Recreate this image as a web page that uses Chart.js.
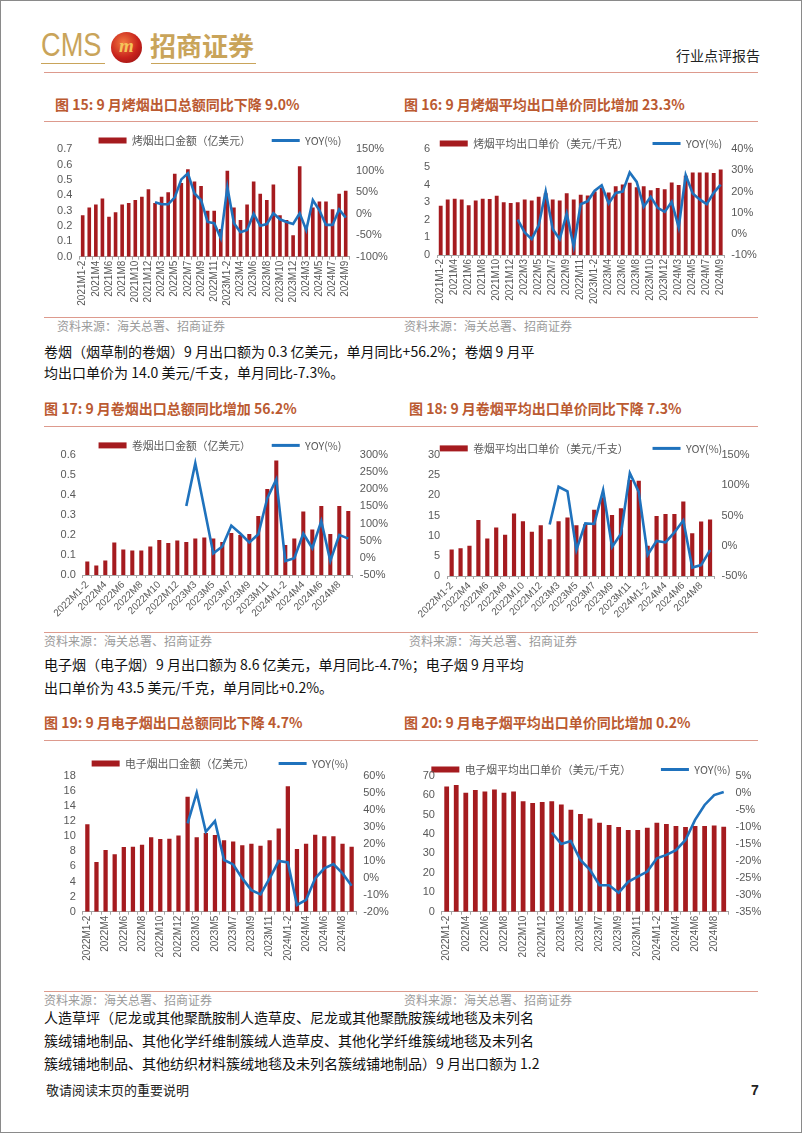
<!DOCTYPE html>
<html><head><meta charset="utf-8">
<script src="https://cdn.jsdelivr.net/npm/chart.js@4.4.1/dist/chart.umd.min.js"></script>
<style>
html,body{margin:0;padding:0;}
body{width:802px;height:1133px;position:relative;background:#fff;overflow:hidden;font-family:"Noto Sans CJK SC","Noto Sans",sans-serif;}
#frame{position:absolute;left:0;top:0;width:800px;height:1131px;border:1px solid #8a8a8a;}
.abs{position:absolute;white-space:nowrap;}
.rule{position:absolute;height:0;border-top:1.4px solid #dd9a8d;}
.title{font-size:14px;font-weight:bold;color:#bb5a31;line-height:20px;}
.src{font-size:12px;color:#9a9a9a;line-height:16px;}
.para{font-size:14px;color:#111;line-height:20px;}
canvas{position:absolute;}
</style></head>
<body>
<div id="frame"></div>
<!-- header -->
<div class="abs" style="left:41px;top:25px;font:34px 'Liberation Sans',Arial,sans-serif;color:#c9a45a;transform:scaleX(0.8);transform-origin:left top;">CMS</div>
<div class="abs" style="left:41px;top:63px;width:64px;border-top:1px solid #c9a45a;"></div>
<div class="abs" style="left:111px;top:32px;width:31px;height:31px;border-radius:50%;background:radial-gradient(circle at 40% 35%,#f27a40,#c8221c 55%,#8a0f12);"></div>
<div class="abs" style="left:111px;top:33px;width:31px;text-align:center;font:italic bold 19px 'Liberation Serif',serif;color:#f5c55a;line-height:26px;">m</div>
<div class="abs" style="left:150px;top:27px;font-weight:bold;font-size:26px;color:#c9a45a;line-height:36px;">招商证券</div>
<div class="abs" style="left:151px;top:63px;width:105px;border-top:1px solid #c9a45a;"></div>
<div class="abs" style="left:676px;top:45px;font-size:14px;color:#222;line-height:20px;">行业点评报告</div>
<div class="rule" style="left:44px;top:72px;width:714px;"></div>

<!-- block 1 -->
<div class="abs title" style="left:55px;top:94px;">图 15: 9 月烤烟出口总额同比下降 9.0%</div>
<div class="abs title" style="left:404px;top:94px;">图 16: 9 月烤烟平均出口单价同比增加 23.3%</div>
<div class="rule" style="left:44px;top:121px;width:714px;"></div>
<div class="rule" style="left:44px;top:317px;width:714px;"></div>
<div class="abs src" style="left:57px;top:318px;">资料来源：海关总署、招商证券</div>
<div class="abs src" style="left:404px;top:318px;">资料来源：海关总署、招商证券</div>

<div class="abs para" style="left:44px;top:341px;">卷烟（烟草制的卷烟）9 月出口额为 0.3 亿美元，单月同比+56.2%；卷烟 9 月平</div>
<div class="abs para" style="left:44px;top:362px;">均出口单价为 14.0 美元/千支，单月同比-7.3%。</div>

<!-- block 2 -->
<div class="abs title" style="left:44px;top:398px;">图 17: 9 月卷烟出口总额同比增加 56.2%</div>
<div class="abs title" style="left:409px;top:398px;">图 18: 9 月卷烟平均出口单价同比下降 7.3%</div>
<div class="rule" style="left:44px;top:426px;width:714px;"></div>
<div class="rule" style="left:44px;top:632px;width:714px;"></div>
<div class="abs src" style="left:44px;top:633px;">资料来源：海关总署、招商证券</div>
<div class="abs src" style="left:409px;top:633px;">资料来源：海关总署、招商证券</div>

<div class="abs para" style="left:44px;top:654px;">电子烟（电子烟）9 月出口额为 8.6 亿美元，单月同比-4.7%；电子烟 9 月平均</div>
<div class="abs para" style="left:44px;top:677px;">出口单价为 43.5 美元/千克，单月同比+0.2%。</div>

<!-- block 3 -->
<div class="abs title" style="left:44px;top:712px;">图 19: 9 月电子烟出口总额同比下降 4.7%</div>
<div class="abs title" style="left:404px;top:712px;">图 20: 9 月电子烟平均出口单价同比增加 0.2%</div>
<div class="rule" style="left:44px;top:740px;width:714px;"></div>
<div class="rule" style="left:44px;top:991px;width:714px;"></div>
<div class="abs src" style="left:44px;top:992px;">资料来源：海关总署、招商证券</div>
<div class="abs src" style="left:404px;top:992px;">资料来源：海关总署、招商证券</div>

<div class="abs para" style="left:44px;top:1007px;">人造草坪（尼龙或其他聚酰胺制人造草皮、尼龙或其他聚酰胺簇绒地毯及未列名</div>
<div class="abs para" style="left:44px;top:1030px;">簇绒铺地制品、其他化学纤维制簇绒人造草皮、其他化学纤维簇绒地毯及未列名</div>
<div class="abs para" style="left:44px;top:1053px;">簇绒铺地制品、其他纺织材料簇绒地毯及未列名簇绒铺地制品）9 月出口额为 1.2</div>

<div class="abs" style="left:46px;top:1081px;font-size:13px;color:#222;line-height:18px;">敬请阅读末页的重要说明</div>
<div class="abs" style="left:751px;top:1081px;font-size:14px;font-weight:bold;color:#222;line-height:18px;font-family:'Liberation Sans',Arial,sans-serif;">7</div>

<script>
// ---------- categories ----------
const months2021to2024 = ["2021M1-2","2021M3","2021M4","2021M5","2021M6","2021M7","2021M8","2021M9","2021M10","2021M11","2021M12",
  "2022M1-2","2022M3","2022M4","2022M5","2022M6","2022M7","2022M8","2022M9","2022M10","2022M11","2022M12",
  "2023M1-2","2023M3","2023M4","2023M5","2023M6","2023M7","2023M8","2023M9","2023M10","2023M11","2023M12",
  "2024M1-2","2024M3","2024M4","2024M5","2024M6","2024M7","2024M8","2024M9"];
const months2022to2024 = ["2022M1-2","2022M3","2022M4","2022M5","2022M6","2022M7","2022M8","2022M9","2022M10","2022M11","2022M12",
  "2023M1-2","2023M3","2023M4","2023M5","2023M6","2023M7","2023M8","2023M9","2023M10","2023M11","2023M12",
  "2024M1-2","2024M3","2024M4","2024M5","2024M6","2024M7","2024M8","2024M9"];

// ---------- series ----------
const fluExportValue = [0.27,0.32,0.34,0.38,0.26,0.29,0.34,0.35,0.37,0.39,0.44,
  0.35,0.39,0.42,0.54,0.48,0.57,0.49,0.46,0.30,0.30,0.18,
  0.56,0.32,0.24,0.34,0.49,0.41,0.37,0.47,0.27,0.24,0.14,
  0.59,0.19,0.32,0.36,0.36,0.31,0.41,0.43];
const fluExportYoY = [null,null,null,null,null,null,null,null,null,null,null,
  27,22,22,38,80,94,47,32,-19,-22,-57,
  62,-22,-43,-38,0,-28,-24,1,-13,-19,-24,
  1,-38,32,8,-26,-26,10,-9];

const fluUnitPrice = [2.8,3.15,3.2,3.15,2.82,3.1,3.2,3.18,3.36,3.0,2.95,
  3.0,3.15,3.1,3.3,3.5,3.15,3.1,3.5,3.15,3.42,3.38,
  3.6,3.8,3.55,3.9,4.0,4.1,3.85,3.9,3.68,3.8,3.73,
  4.12,3.97,4.5,4.68,4.68,4.68,4.65,4.85];
const fluUnitPriceYoY = [null,null,null,null,null,null,null,null,null,null,null,
  6.7,0.7,-2.5,4,20,2.3,-2.5,9.6,-6,14,15.5,
  20.4,23,14.4,19.4,20,29,24.6,12.8,17.5,12.3,10.4,
  15.2,3,27.8,19.1,16.3,14,19.4,23.3];

const cigExportValue = [0.068,0.048,0.073,0.163,0.128,0.123,0.123,0.143,0.175,0.16,0.172,
  0.165,0.182,0.187,0.182,0.165,0.21,0.2,0.205,0.295,0.43,0.572,
  0.15,0.182,0.317,0.228,0.345,0.205,0.345,0.32];
const cigExportYoY = [null,null,null,null,null,null,null,null,null,null,null,
  151,276,145,13,33,94,71,45,69,174,229,
  -9,-1,71,28,107,-9,67,56.2];

const cigUnitPrice = [6.6,6.9,7.5,13.9,9.3,12.0,10.2,15.5,13.6,11.0,12.6,
  9.1,13.6,14.5,12.6,12.8,16.4,19.5,15.1,16.8,23.8,23.6,
  7.5,14.9,15.4,15.4,18.5,10.6,13.5,14.0];
const cigUnitPriceYoY = [null,null,null,null,null,null,null,null,null,null,null,
  35,97.5,90,-7,37,36,92,-2,20,120,89,
  -15,8,5.5,22,42,-36,-32,-7.3];

const ecigExportValue = [11.57,6.58,8.17,7.6,8.57,8.6,8.87,9.85,9.62,9.67,10.1,
  15.2,9.85,10.4,10.15,9.45,9.3,8.8,9.0,8.74,9.45,11.0,
  16.6,8.3,9.0,10.2,10.0,10.0,9.0,8.6];
const ecigExportYoY = [null,null,null,null,null,null,null,null,null,null,null,
  32,50,27,33.3,10.4,7.8,-0.4,-7.3,-9.8,-0.4,9.8,
  9,-16,-13,-0.4,5.5,8,2.5,-4.7];

const ecigUnitPrice = [64.5,65.2,61.2,62.6,61.9,62.9,61.2,61.9,56.9,55.9,56.4,
  56.8,55.2,52.5,50.3,48.0,45.8,44.6,43.6,42.0,42.0,43.2,
  45.8,45.1,44.1,43.6,44.1,44.1,44.4,43.7];
const ecigUnitPriceYoY = [null,null,null,null,null,null,null,null,null,null,null,
  -11.7,-15.1,-14.2,-19.8,-22.7,-27.2,-27.2,-29.4,-26.2,-24.7,-23.2,
  -19.3,-18.3,-16.9,-13.9,-8.0,-3.6,-0.7,0.2];

// ---------- styles ----------
const BAR_COLOR = '#a51b1f';
const LINE_COLOR = '#1f72bd';
const TICK_COLOR = '#595959';
const AXIS_COLOR = '#a6a6a6';
const FONT_NUM = '"Liberation Sans", Arial, sans-serif';
const FONT_CJK = '"Noto Sans CJK SC", sans-serif';

function drawChart(s){
  const b = s.box, p = s.plot;
  const cv = document.createElement('canvas');
  cv.width = b.w; cv.height = b.h;
  cv.style.left = b.x + 'px'; cv.style.top = b.y + 'px';
  cv.style.width = b.w + 'px'; cv.style.height = b.h + 'px';
  document.body.appendChild(cv);
  const leftW = p.l - b.x, rightW = b.x + b.w - p.r, topH = p.t - b.y, botH = b.y + b.h - p.b;
  const LEG_F = 10.8;
  new Chart(cv.getContext('2d'), {
    data: {
      labels: s.labels,
      datasets: [
        {type:'line', label:'YOY(%)', data:s.yoy, borderColor:LINE_COLOR, backgroundColor:LINE_COLOR,
         borderWidth:2.6, pointRadius:0, tension:0, yAxisID:'y1', order:0},
        {type:'bar', label:s.barLabel, data:s.bars, backgroundColor:BAR_COLOR, yAxisID:'y',
         barPercentage:s.bp, categoryPercentage:1, order:1}
      ]
    },
    options: {
      responsive:false, animation:false, events:[],
      layout:{padding:0},
      plugins:{
        tooltip:{enabled:false},
        legend:{
          display:true, position:'top', maxHeight:topH,
          labels:{
            color:TICK_COLOR, font:{family:FONT_CJK, size:LEG_F}, padding:s.legPad || 20,
            usePointStyle:true, pointStyleWidth:28, boxHeight:6,
            generateLabels:()=>[
              {text:s.barLabel, fillStyle:BAR_COLOR, strokeStyle:BAR_COLOR, lineWidth:0, pointStyle:'rect', datasetIndex:1, hidden:false, fontColor:TICK_COLOR},
              {text:'YOY(%)', fillStyle:LINE_COLOR, strokeStyle:LINE_COLOR, lineWidth:3, pointStyle:'line', datasetIndex:0, hidden:false, fontColor:TICK_COLOR}
            ]
          }
        }
      },
      scales:{
        x:{
          type:'category', offset:true,
          grid:{display:true, drawOnChartArea:false, drawTicks:true, tickLength:3, color:AXIS_COLOR, offset:true},
          border:{display:true, color:AXIS_COLOR, width:1},
          ticks:{autoSkip:false, minRotation:s.rot, maxRotation:s.rot, padding:1, color:TICK_COLOR,
                 font:{family:FONT_NUM, size:10},
                 callback:(v,i)=> i % 2 === 0 ? s.labels[i] : ''},
          afterFit:(sc)=>{ sc.height = botH; }
        },
        y:{
          position:'left', min:s.yMin, max:s.yMax,
          grid:{display:false, drawTicks:false}, border:{display:false},
          ticks:{autoSkip:false, stepSize:s.yStep, padding:7, color:TICK_COLOR, font:{family:FONT_NUM, size:11},
                 callback:(v)=> s.yDec ? Number(v).toFixed(s.yDec) : String(Math.round(v))},
          afterFit:(sc)=>{ sc.width = leftW; }
        },
        y1:{
          position:'right', min:s.rMin, max:s.rMax,
          grid:{display:false, drawTicks:false}, border:{display:false},
          ticks:{autoSkip:false, stepSize:s.rStep, padding:7, color:TICK_COLOR, font:{family:FONT_NUM, size:11},
                 callback:(v)=> Math.round(v) + '%'},
          afterFit:(sc)=>{ sc.width = rightW; }
        }
      }
    }
  });
}

// chart 15
drawChart({labels:months2021to2024, bars:fluExportValue, yoy:fluExportYoY, barLabel:'烤烟出口金额（亿美元）',
  box:{x:40,y:114,w:360,h:198}, plot:{l:79.4,r:349,t:149.3,b:256.7}, rot:90, bp:0.55,
  yMin:0,yMax:0.7,yStep:0.1,yDec:1, rMin:-100,rMax:150,rStep:50, legPad:21});
// chart 16
drawChart({labels:months2021to2024, bars:fluUnitPrice, yoy:fluUnitPriceYoY, barLabel:'烤烟平均出口单价（美元/千克）',
  box:{x:400,y:114,w:362,h:198}, plot:{l:437.2,r:724.2,t:149.3,b:255}, rot:90, bp:0.55,
  yMin:0,yMax:6,yStep:1,yDec:0, rMin:-10,rMax:40,rStep:10, legPad:24});
// chart 17
drawChart({labels:months2022to2024, bars:cigExportValue, yoy:cigExportYoY, barLabel:'卷烟出口金额（亿美元）',
  box:{x:40,y:419,w:360,h:209}, plot:{l:82.8,r:352.8,t:455,b:575}, rot:45, bp:0.45,
  yMin:0,yMax:0.6,yStep:0.1,yDec:1, rMin:-50,rMax:300,rStep:50, legPad:21});
// chart 18
drawChart({labels:months2022to2024, bars:cigUnitPrice, yoy:cigUnitPriceYoY, barLabel:'卷烟平均出口单价（美元/千支）',
  box:{x:400,y:419,w:362,h:209}, plot:{l:447.2,r:714.5,t:455,b:576}, rot:45, bp:0.47,
  yMin:0,yMax:30,yStep:5,yDec:0, rMin:-50,rMax:150,rStep:50, legPad:24});
// chart 19
drawChart({labels:months2022to2024, bars:ecigExportValue, yoy:ecigExportYoY, barLabel:'电子烟出口金额（亿美元）',
  box:{x:40,y:734,w:360,h:254}, plot:{l:82.8,r:356.2,t:775.7,b:911.7}, rot:90, bp:0.47,
  yMin:0,yMax:18,yStep:2,yDec:0, rMin:-20,rMax:60,rStep:10, legPad:24});
// chart 20
drawChart({labels:months2022to2024, bars:ecigUnitPrice, yoy:ecigUnitPriceYoY, barLabel:'电子烟平均出口单价（美元/千克）',
  box:{x:400,y:734,w:362,h:254}, plot:{l:441.9,r:728.5,t:775.7,b:911.7}, rot:90, bp:0.5,
  yMin:0,yMax:70,yStep:10,yDec:0, rMin:-35,rMax:5,rStep:5, legPad:30});
</script>
</body></html>
